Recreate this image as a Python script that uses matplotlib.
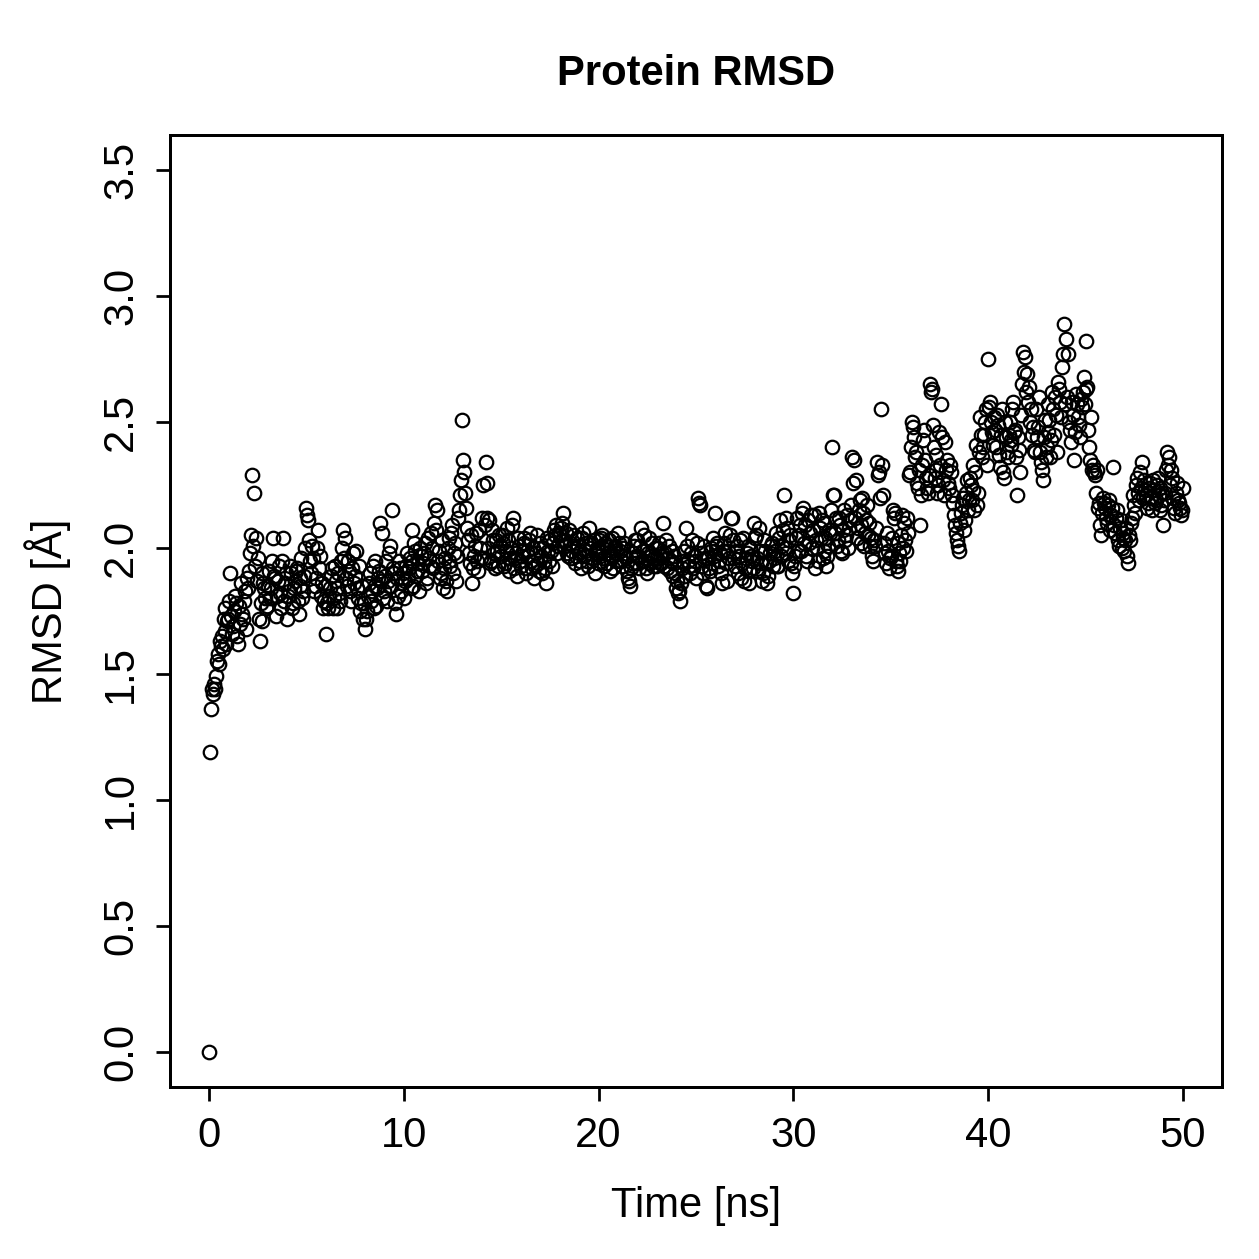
import numpy as np
import matplotlib
matplotlib.use("Agg")
import matplotlib.pyplot as plt

# RMSD [A] at whole 0.1 ns frames, one list per 10 ns block
rmsd_0_10 = [
    0.00, 1.36, 1.42, 1.44, 1.55, 1.54, 1.61, 1.60, 1.67, 1.62,
    1.72, 1.90, 1.66, 1.75, 1.78, 1.62, 1.70, 1.74, 1.79, 1.68,
    1.84, 1.98, 2.29, 2.22, 2.04, 1.96, 1.63, 1.71, 1.86, 1.80,
    1.77, 1.91, 1.84, 2.04, 1.88, 1.81, 1.93, 1.76, 2.04, 1.86,
    1.72, 1.83, 1.90, 1.78, 1.87, 1.92, 1.74, 1.85, 1.80, 1.89,
    2.16, 2.11, 1.95, 2.01, 1.83, 1.88, 2.07, 1.97, 1.86, 1.79,
    1.66, 1.76, 1.84, 1.92, 1.80, 1.87, 1.76, 1.82, 1.95, 2.07,
    2.04, 1.85, 1.91, 1.79, 1.98, 1.89, 1.84, 1.93, 1.78, 1.72,
    1.68, 1.75, 1.86, 1.79, 1.93, 1.85, 1.77, 1.88, 2.10, 2.06,
    1.83, 1.95, 1.87, 2.01, 2.15, 1.90, 1.74, 1.81, 1.92, 1.86,
]
rmsd_10_20 = [
    1.80, 1.93, 1.88, 1.96, 2.07, 1.85, 1.99, 1.91, 1.83, 1.97,
    1.94, 2.02, 1.88, 1.96, 2.06, 1.92, 2.17, 2.15, 1.99, 1.90,
    1.84, 1.96, 1.83, 2.04, 1.93, 2.09, 1.98, 1.87, 2.12, 2.21,
    2.51, 2.30, 2.16, 2.03, 1.94, 1.86, 1.97, 2.06, 1.91, 2.00,
    2.12, 1.96, 2.34, 2.26, 2.11, 1.95, 2.03, 1.92, 1.99, 2.05,
    1.97, 2.02, 1.94, 2.08, 1.91, 2.00, 2.12, 1.96, 1.89, 2.01,
    1.93, 1.99, 2.04, 1.90, 1.97, 2.06, 1.92, 1.88, 1.98, 1.94,
    2.02, 1.90, 1.95, 1.86, 1.99, 2.03, 1.93, 2.07, 2.09, 2.01,
    2.05, 2.10, 2.14, 2.03, 1.98, 2.07, 1.96, 2.01, 1.94, 2.04,
    1.98, 1.92, 2.06, 1.99, 1.95, 2.08, 2.02, 1.96, 1.90, 2.00,
]
rmsd_20_30 = [
    2.03, 1.97, 2.05, 1.93, 2.01, 1.98, 1.91, 2.04, 2.00, 1.95,
    2.06, 1.99, 1.93, 2.02, 1.96, 1.88, 1.85, 1.94, 2.01, 1.97,
    2.03, 1.92, 2.08, 1.99, 1.95, 1.90, 2.04, 1.97, 1.93, 2.00,
    1.96, 2.02, 1.94, 2.10, 1.98, 1.92, 2.01, 1.95, 1.89, 1.97,
    1.84, 1.82, 1.79, 1.92, 1.99, 2.08, 1.95, 1.90, 2.03, 1.97,
    1.88, 2.20, 2.17, 1.93, 2.01, 1.85, 1.96, 1.91, 1.99, 2.04,
    2.14, 2.02, 1.95, 1.90, 1.99, 2.06, 1.87, 1.96, 2.12, 2.03,
    1.93, 2.01, 1.97, 1.88, 2.04, 1.92, 1.98, 1.86, 2.00, 1.95,
    2.10, 2.05, 1.91, 1.99, 1.87, 2.03, 1.94, 1.89, 1.98, 2.02,
    1.96, 2.06, 1.93, 2.11, 2.01, 2.21, 1.98, 2.08, 2.03, 1.94,
]
rmsd_30_40 = [
    1.82, 1.97, 2.12, 2.05, 1.99, 2.16, 2.09, 1.95, 2.02, 2.13,
    2.07, 1.92, 2.00, 2.14, 2.04, 1.96, 2.10, 1.93, 2.01, 2.06,
    2.40, 2.21, 2.12, 2.03, 2.09, 1.98, 2.15, 2.05, 2.00, 2.11,
    2.36, 2.35, 2.27, 2.08, 2.19, 2.02, 2.14, 2.06, 2.17, 2.10,
    2.04, 1.95, 2.01, 2.34, 2.30, 2.55, 2.21, 1.98, 2.06, 1.92,
    1.97, 2.15, 2.14, 1.93, 2.02, 1.95, 2.13, 2.10, 1.99, 2.06,
    2.30, 2.50, 2.44, 2.38, 2.24, 2.09, 2.33, 2.47, 2.28, 2.22,
    2.65, 2.63, 2.40, 2.31, 2.22, 2.46, 2.57, 2.27, 2.42, 2.35,
    2.24, 2.30, 2.18, 2.09, 2.03, 1.99, 2.14, 2.20, 2.11, 2.27,
    2.19, 2.25, 2.33, 2.15, 2.41, 2.22, 2.52, 2.36, 2.45, 2.55,
]
rmsd_40_50 = [
    2.75, 2.58, 2.46, 2.52, 2.40, 2.49, 2.32, 2.55, 2.28, 2.44,
    2.36, 2.50, 2.43, 2.58, 2.47, 2.21, 2.39, 2.53, 2.78, 2.76,
    2.69, 2.64, 2.55, 2.48, 2.38, 2.44, 2.60, 2.34, 2.27, 2.51,
    2.40, 2.57, 2.36, 2.62, 2.45, 2.53, 2.66, 2.58, 2.72, 2.89,
    2.83, 2.77, 2.47, 2.58, 2.35, 2.61, 2.52, 2.44, 2.56, 2.68,
    2.82, 2.64, 2.40, 2.52, 2.33, 2.29, 2.31, 2.18, 2.05, 2.20,
    2.16, 2.10, 2.19, 2.13, 2.32, 2.06, 2.15, 2.01, 2.11, 2.04,
    1.99, 2.08, 1.94, 2.03, 2.12, 2.17, 2.25, 2.22, 2.30, 2.34,
    2.27, 2.21, 2.18, 2.26, 2.15, 2.23, 2.19, 2.28, 2.24, 2.17,
    2.09, 2.22, 2.38, 2.36, 2.31, 2.20, 2.14, 2.26, 2.18, 2.13,
    2.24,
]

# RMSD [A] at the in-between frames (0.05, 0.15, ... ns)
mid_0_10 = [
    1.19, 1.44, 1.46, 1.49, 1.58, 1.63, 1.65, 1.72, 1.76, 1.71,
    1.79, 1.73, 1.69, 1.81, 1.65, 1.77, 1.86, 1.72, 1.83, 1.88,
    1.91, 2.05, 2.01, 1.93, 1.87, 1.72, 1.78, 1.90, 1.84, 1.76,
    1.85, 1.80, 1.95, 1.89, 1.73, 1.87, 1.82, 1.95, 1.79, 1.90,
    1.81, 1.93, 1.76, 1.84, 1.91, 1.79, 1.88, 1.96, 1.83, 2.00,
    2.13, 2.03, 1.90, 1.96, 1.85, 2.00, 1.92, 1.81, 1.76, 1.85,
    1.78, 1.81, 1.89, 1.76, 1.93, 1.84, 1.90, 1.79, 2.00, 1.96,
    1.88, 1.95, 1.83, 1.92, 1.86, 1.99, 1.80, 1.75, 1.85, 1.78,
    1.72, 1.81, 1.90, 1.83, 1.76, 1.95, 1.84, 1.91, 1.87, 1.80,
    1.89, 1.79, 1.98, 1.85, 1.92, 1.78, 1.88, 1.95, 1.83, 1.90,
]
mid_10_20 = [
    1.87, 1.98, 1.92, 1.84, 1.95, 2.02, 1.89, 1.94, 2.00, 1.91,
    1.98, 1.86, 2.04, 1.93, 2.00, 2.10, 2.07, 1.95, 1.88, 2.03,
    1.92, 1.87, 2.00, 1.95, 2.06, 1.90, 2.02, 1.97, 2.15, 2.27,
    2.35, 2.22, 2.08, 1.98, 2.05, 1.92, 2.01, 1.95, 2.07, 1.96,
    2.25, 2.09, 2.12, 2.00, 1.94, 2.07, 1.98, 2.03, 1.93, 2.01,
    2.05, 1.93, 1.99, 2.03, 1.96, 2.09, 1.92, 1.98, 2.04, 1.95,
    1.97, 2.02, 1.92, 1.99, 2.03, 1.95, 2.00, 1.93, 2.05, 1.91,
    1.97, 2.00, 1.92, 2.04, 1.95, 1.99, 2.02, 2.05, 1.98, 2.06,
    2.08, 2.03, 2.01, 2.06, 1.97, 2.02, 1.99, 2.05, 1.97, 2.01,
    1.95, 2.04, 1.97, 2.02, 1.93, 2.00, 1.96, 2.03, 1.98, 1.94,
]
mid_20_30 = [
    1.99, 2.04, 1.96, 2.02, 1.94, 2.03, 1.97, 1.92, 2.01, 1.98,
    2.02, 1.95, 2.00, 1.97, 1.91, 1.87, 1.92, 1.98, 2.03, 1.94,
    1.97, 2.01, 1.95, 2.05, 1.92, 1.98, 1.94, 2.02, 1.96, 1.93,
    2.00, 1.94, 1.98, 1.93, 2.03, 1.96, 1.91, 1.99, 1.94, 1.90,
    1.87, 1.83, 1.86, 1.95, 1.89, 2.01, 1.93, 1.98, 1.92, 1.95,
    2.02, 2.18, 1.98, 1.90, 1.96, 1.84, 1.92, 2.00, 1.94, 1.97,
    2.01, 1.93, 1.98, 1.86, 2.02, 1.94, 1.99, 2.05, 2.12, 1.96,
    1.99, 1.90, 2.03, 1.94, 1.87, 1.96, 2.01, 1.91, 1.97, 1.92,
    2.04, 1.96, 2.08, 1.94, 1.90, 1.99, 1.86, 1.95, 2.01, 1.93,
    1.99, 1.93, 2.04, 1.97, 2.07, 2.00, 2.12, 1.95, 2.05, 1.90,
]
mid_30_40 = [
    1.93, 2.04, 1.99, 2.09, 2.14, 2.02, 1.97, 2.11, 2.06, 2.00,
    2.13, 2.03, 1.95, 2.08, 2.11, 1.99, 2.04, 1.97, 2.07, 2.15,
    2.21, 2.06, 2.01, 2.12, 1.99, 2.07, 2.03, 2.13, 2.08, 2.17,
    2.26, 2.12, 2.04, 2.15, 2.09, 2.20, 2.01, 2.11, 2.05, 2.01,
    1.97, 2.03, 2.08, 2.29, 2.20, 2.33, 2.02, 1.94, 1.99, 1.96,
    2.04, 2.12, 1.95, 1.91, 1.98, 2.05, 2.00, 2.03, 2.12, 2.29,
    2.40, 2.48, 2.36, 2.26, 2.31, 2.21, 2.43, 2.35, 2.24, 2.29,
    2.62, 2.49, 2.28, 2.37, 2.25, 2.33, 2.44, 2.21, 2.31, 2.26,
    2.33, 2.21, 2.13, 2.06, 2.01, 2.10, 2.17, 2.07, 2.22, 2.15,
    2.28, 2.19, 2.23, 2.30, 2.17, 2.38, 2.45, 2.40, 2.50, 2.33,
]
mid_40_50 = [
    2.56, 2.50, 2.41, 2.47, 2.53, 2.37, 2.45, 2.30, 2.50, 2.38,
    2.45, 2.41, 2.55, 2.46, 2.36, 2.44, 2.30, 2.65, 2.70, 2.62,
    2.58, 2.50, 2.45, 2.39, 2.55, 2.48, 2.38, 2.31, 2.44, 2.36,
    2.46, 2.51, 2.43, 2.55, 2.60, 2.38, 2.63, 2.52, 2.77, 2.57,
    2.60, 2.50, 2.42, 2.53, 2.46, 2.57, 2.49, 2.59, 2.62, 2.57,
    2.63, 2.47, 2.35, 2.31, 2.30, 2.22, 2.16, 2.09, 2.14, 2.18,
    2.12, 2.17, 2.07, 2.16, 2.09, 2.12, 2.03, 2.08, 2.00, 2.06,
    2.03, 1.97, 2.05, 2.10, 2.21, 2.14, 2.28, 2.19, 2.24, 2.20,
    2.23, 2.16, 2.24, 2.20, 2.27, 2.18, 2.25, 2.21, 2.15, 2.22,
    2.19, 2.31, 2.33, 2.25, 2.28, 2.16, 2.22, 2.19, 2.16, 2.15,
]

rmsd_main = rmsd_0_10 + rmsd_10_20 + rmsd_20_30 + rmsd_30_40 + rmsd_40_50
rmsd_mid = mid_0_10 + mid_10_20 + mid_20_30 + mid_30_40 + mid_40_50
t_main = np.arange(len(rmsd_main)) * 0.1
t_mid = np.arange(len(rmsd_mid)) * 0.1 + 0.05

time_ns = np.concatenate([t_main, t_mid])
rmsd = np.concatenate([rmsd_main, rmsd_mid])
order = np.argsort(time_ns)
time_ns, rmsd = time_ns[order], rmsd[order]

x_ticks = [0, 10, 20, 30, 40, 50]
y_ticks = [0.0, 0.5, 1.0, 1.5, 2.0, 2.5, 3.0, 3.5]

plt.rcParams["font.family"] = ["Liberation Sans", "DejaVu Sans"]
plt.rcParams["font.size"] = 16.7

fig = plt.figure(figsize=(1259 / 180, 1259 / 180), dpi=180)
ax = fig.add_axes([0.135, 0.1366, 0.8355, 0.7562])

ax.plot(time_ns, rmsd, linestyle="none", marker="o", markersize=5.4,
        markerfacecolor="none", markeredgecolor="black", markeredgewidth=0.9)

ax.set_xlim(-2, 52)
ax.set_ylim(-0.14, 3.64)
ax.set_xticks(x_ticks)
ax.set_yticks(y_ticks)
ax.set_yticklabels([f"{v:.1f}" for v in y_ticks], rotation=90, va="center")
ax.tick_params(direction="out", length=5.5, width=1.1, labelsize=16.7, pad=6)

for s in ax.spines.values():
    s.set_linewidth(1.2)

ax.set_xlabel("Time [ns]", fontsize=16.7, labelpad=12)
ax.set_ylabel("RMSD [Å]", fontsize=16.7, labelpad=12)
ax.set_title("Protein RMSD", fontsize=16.7, fontweight="bold", pad=20)

fig.savefig("out.png", dpi=180)
